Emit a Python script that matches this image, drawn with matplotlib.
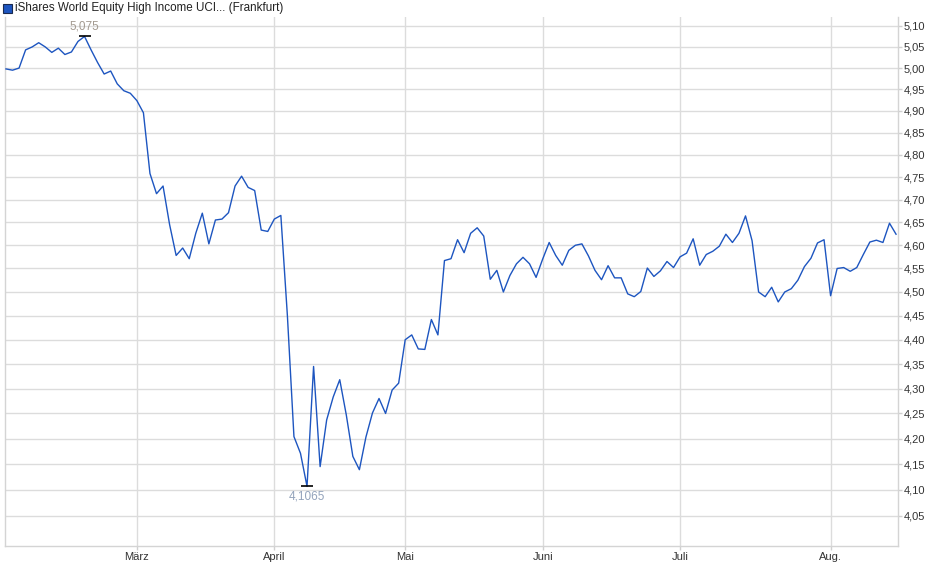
import matplotlib
matplotlib.use("Agg")
import matplotlib.pyplot as plt
import matplotlib.ticker as mticker
from matplotlib.patches import Rectangle
import numpy as np
import pandas as pd

plt.rcParams['font.family'] = ['Liberation Sans', 'DejaVu Sans']

# ---- data ----
title = "iShares World Equity High Income UCI... (Frankfurt)"
start_date = "2025-02-03"
end_date = "2025-08-15"
holidays = ["2025-04-18", "2025-04-21", "2025-05-01"]
month_labels = ["März", "April", "Mai", "Juni", "Juli", "Aug."]
prices = [
    4.998, 4.995, 5.000, 5.043, 5.050, 5.060, 5.050, 5.037, 5.047, 5.032,
    5.038, 5.063, 5.075, 5.043, 5.013, 4.986, 4.993, 4.963, 4.947, 4.941,
    4.924, 4.896, 4.758, 4.713, 4.730, 4.645, 4.578, 4.594, 4.571, 4.626,
    4.670, 4.603, 4.655, 4.657, 4.671, 4.730, 4.752, 4.727, 4.720, 4.633,
    4.630, 4.657, 4.665, 4.450, 4.204, 4.171, 4.1065, 4.345, 4.145, 4.237,
    4.283, 4.318, 4.247, 4.165, 4.139, 4.203, 4.251, 4.280, 4.250, 4.297,
    4.311, 4.400, 4.410, 4.381, 4.380, 4.442, 4.410, 4.567, 4.571, 4.612,
    4.584, 4.626, 4.638, 4.620, 4.527, 4.546, 4.500, 4.535, 4.560, 4.574,
    4.560, 4.531, 4.570, 4.606, 4.578, 4.557, 4.589, 4.600, 4.603, 4.577,
    4.546, 4.526, 4.556, 4.530, 4.530, 4.496, 4.490, 4.501, 4.551, 4.533,
    4.545, 4.565, 4.552, 4.575, 4.583, 4.614, 4.557, 4.580, 4.587, 4.598,
    4.624, 4.606, 4.626, 4.664, 4.610, 4.500, 4.490, 4.510, 4.479, 4.500,
    4.507, 4.525, 4.554, 4.572, 4.605, 4.612, 4.492, 4.550, 4.552, 4.544,
    4.552, 4.580, 4.607, 4.611, 4.606, 4.648, 4.624,
]
y_ticks = [4.05, 4.10, 4.15, 4.20, 4.25, 4.30, 4.35, 4.40, 4.45, 4.50, 4.55,
           4.60, 4.65, 4.70, 4.75, 4.80, 4.85, 4.90, 4.95, 5.00, 5.05, 5.10]

dates = pd.bdate_range(start_date, end_date)
dates = dates[~dates.isin(pd.to_datetime(holidays))]
s = pd.Series(prices, index=dates)
idx = np.arange(len(s))

# month tick positions: first trading day of each month after the first
months = dates.to_period("M")
first_pos = [i for i in range(1, len(dates)) if months[i] != months[i - 1]]

fig = plt.figure(figsize=(9.4, 5.79), dpi=100)
ax = fig.add_axes([5 / 940, 1 - 546 / 579, 893 / 940, 529 / 579])

ax.plot(idx, s.values, color="#1d55c0", lw=1.0, zorder=3)

ax.set_yscale("log")
ax.set_ylim(3.993, 5.1216)
ax.set_xlim(-0.15, len(s) - 0.7)

ax.yaxis.set_major_locator(mticker.FixedLocator(y_ticks))
ax.yaxis.set_minor_locator(mticker.NullLocator())
ax.yaxis.set_major_formatter(mticker.FuncFormatter(lambda v, p: f"{v:.2f}".replace(".", ",")))
ax.yaxis.tick_right()

ax.xaxis.set_major_locator(mticker.FixedLocator(first_pos))
ax.xaxis.set_major_formatter(mticker.FixedFormatter(month_labels))
ax.xaxis.set_minor_locator(mticker.NullLocator())

ax.grid(True, color="#dcdcdc", lw=1.0, zorder=0)
ax.tick_params(axis="both", colors="#d0d0d0", labelcolor="#333333",
               labelsize=8, length=3, width=1, pad=1)
for side in ["left", "right", "bottom"]:
    ax.spines[side].set_color("#d4d4d4")
    ax.spines[side].set_linewidth(1)
ax.spines["top"].set_visible(False)

# max / min annotations
imax = int(np.argmax(s.values))
imin = int(np.argmin(s.values))
vmax = s.values[imax]
vmin = s.values[imin]
ax.plot([imax], [vmax], marker="_", color="black", ms=9, mew=1.2, zorder=4)
ax.plot([imin], [vmin], marker="_", color="black", ms=9, mew=1.2, zorder=4)
ax.annotate(f"{vmax:.3f}".replace(".", ","), (imax, vmax), xytext=(0, 3),
            textcoords="offset points", ha="center", va="bottom",
            fontsize=8.5, color="#a39a90")
ax.annotate(f"{vmin:.4f}".replace(".", ","), (imin, vmin), xytext=(0, -3),
            textcoords="offset points", ha="center", va="top",
            fontsize=8.5, color="#93a3bb")

# title with legend square
fig.patches.append(Rectangle((3 / 940, 1 - 13 / 579), 9 / 940, 9 / 579,
                             transform=fig.transFigure, facecolor="#1d55c0",
                             edgecolor="#1a2a50", lw=0.8))
fig.text(15 / 940, 1 - 8.5 / 579, title, fontsize=8.4, color="#222222",
         ha="left", va="center")

fig.savefig("out.png", dpi=100)
